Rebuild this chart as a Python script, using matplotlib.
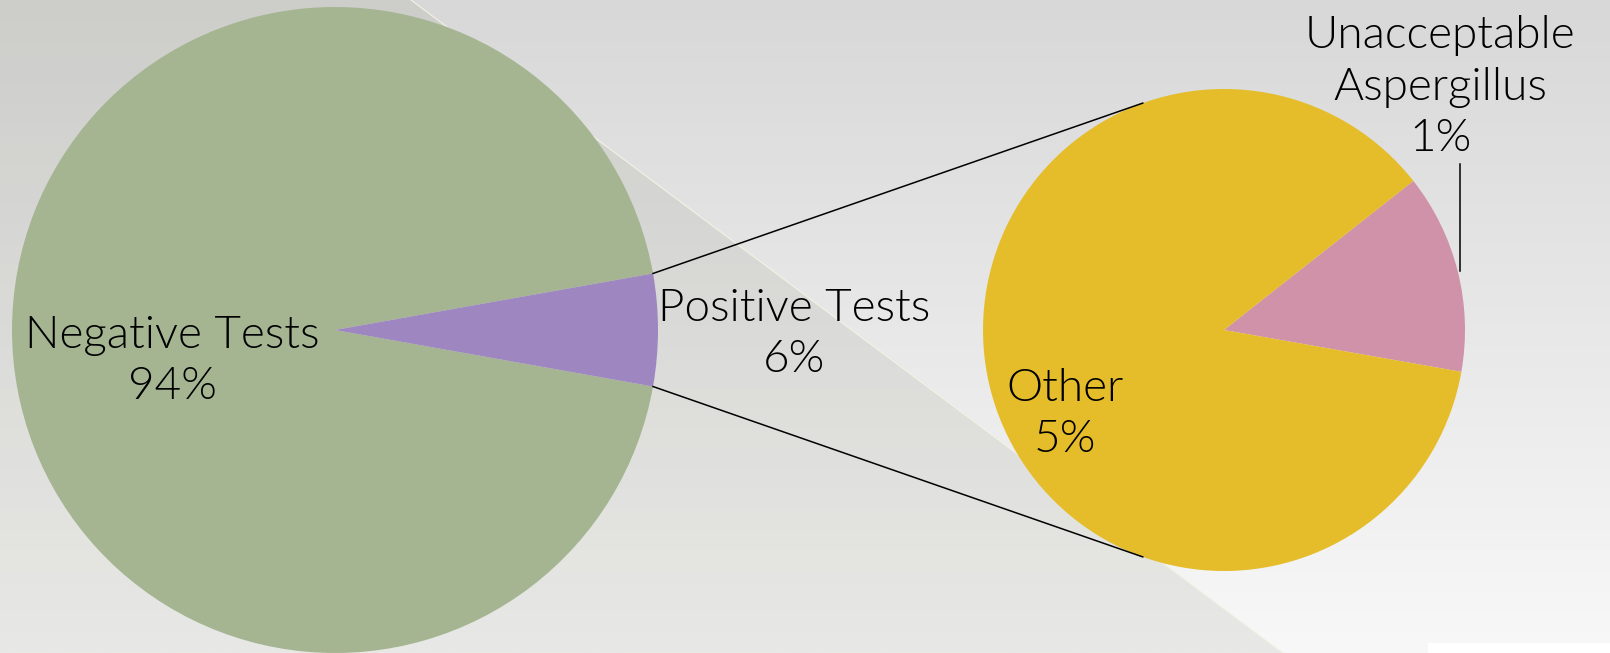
import numpy as np
import matplotlib.pyplot as plt
from matplotlib.patches import Polygon, Rectangle

W, H = 1610, 653

# first pie: all tests (percent of total)
main_labels = ["Negative Tests", "Positive Tests"]
main_values = [94.4, 5.6]
main_colors = ["#a5b592", "#9e86c1"]

# second pie: breakdown of the positive tests (percent of total)
sub_labels = ["Unacceptable\nAspergillus", "Other"]
sub_values = [0.75, 4.85]
sub_colors = ["#d092a8", "#e5bd2a"]

plt.rcParams['font.family'] = ['Lato', 'DejaVu Sans']


def py(y):
    # pixel row (from top) -> data y (from bottom)
    return H - y


fig = plt.figure(figsize=(W / 100, H / 100), dpi=100)
ax = fig.add_axes([0, 0, 1, 1])

# background: vertical grey gradient + tinted diagonal panel
grad = np.linspace(216, 248, 256)[:, None, None] / 255 * np.ones((1, 1, 3))
ax.imshow(grad, extent=[0, W, 0, H], aspect='auto', origin='upper', zorder=0)
ax.add_patch(Polygon([(0, py(0)), (411, py(0)), (1283, py(H)), (0, py(H))],
                     closed=True, facecolor=(0.59, 0.61, 0.53), alpha=0.16,
                     edgecolor='none', zorder=0.5))
ax.plot([411, 1283], [py(0), py(H)], color='#f2f2e4', lw=0.8, zorder=0.6)
ax.add_patch(Rectangle((1428, 0), W - 1428, 10, facecolor='white',
                       edgecolor='none', zorder=0.6))

# left pie, positive slice centred on the right
c1, r1 = (335, py(330)), 323
total = sum(main_values)
half = main_values[1] / total * 360 / 2
ax.pie(main_values, colors=main_colors, center=c1, radius=r1,
       startangle=half, counterclock=True,
       wedgeprops=dict(linewidth=0))

# right pie
c2, r2 = (1224, py(330)), 241
ax.pie(sub_values, colors=sub_colors, center=c2, radius=r2,
       startangle=-10, counterclock=True,
       wedgeprops=dict(linewidth=0))

# connector lines
for sgn in (1, -1):
    a1 = np.deg2rad(sgn * half)
    a2 = np.deg2rad(sgn * 109.7)
    ax.plot([c1[0] + r1 * np.cos(a1), c2[0] + r2 * np.cos(a2)],
            [c1[1] + r1 * np.sin(a1), c2[1] + r2 * np.sin(a2)],
            color='black', lw=1.1, zorder=5)

# leader line for the small slice
ax.plot([1460, 1460], [py(164), py(271)], color='black', lw=1.1, zorder=5)

fs = 33
lsp = 1.33
label_pos = {
    main_labels[0]: (172, 361),
    main_labels[1]: (794, 334),
    sub_labels[0]: (1440, 87),
    sub_labels[1]: (1065, 414),
}
for name, val in zip(main_labels + sub_labels, main_values + sub_values):
    x, y = label_pos[name]
    ax.text(x, py(y), f"{name}\n{val / total * 100:.0f}%", ha='center',
            va='center', fontsize=fs, fontweight=300, linespacing=lsp,
            color='black', zorder=6)

ax.set_xlim(0, W)
ax.set_ylim(0, H)
ax.set_aspect('auto')
ax.axis('off')

fig.savefig('out.png', dpi=100)
